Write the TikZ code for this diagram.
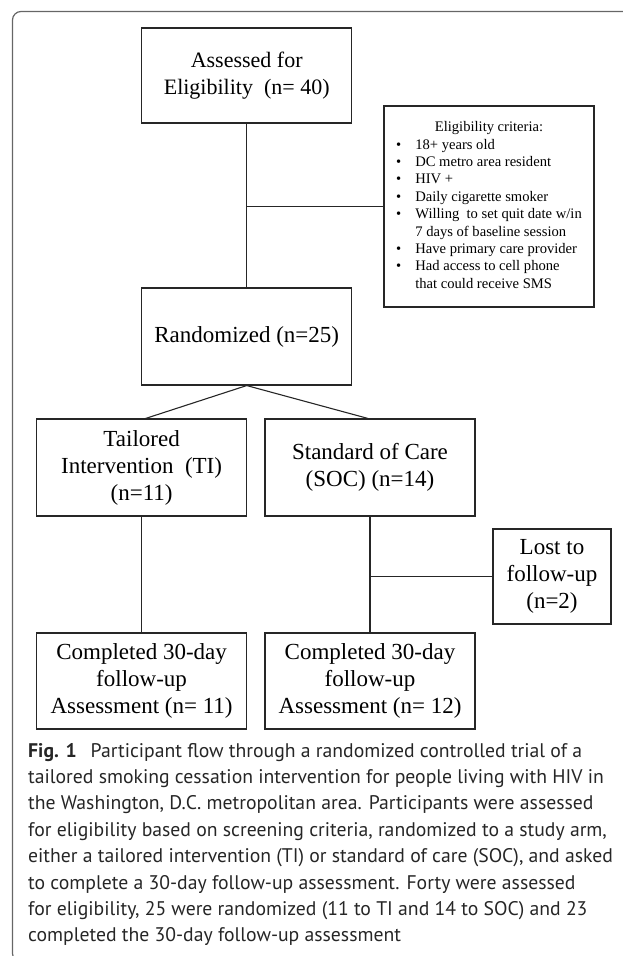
\documentclass[tikz,border=0pt]{standalone}
\usepackage{fontspec}
\setmainfont{Liberation Serif}
\newfontfamily\capfont{PT Sans}
\begin{document}
\begin{tikzpicture}[x=1pt,y=-1pt,
  box/.style={draw=black!85, line width=1.1pt, inner sep=0pt, align=center,
    font=\fontsize{23}{27}\selectfont},
  conn/.style={draw=black!85, line width=1.1pt},
  frame/.style={draw=black!60, line width=1.2pt},
  capline/.style={anchor=base west, inner sep=0pt, font=\capfont\fontsize{19.7}{26.4}\selectfont, text=black!85}]
\useasboundingbox (0,0) rectangle (622,956);
% frame
\draw[frame, rounded corners=8.5pt] (630,11.5) -- (12.5,11.5) -- (12.5,962) -- (24,962);
% boxes
\node[box, minimum width=210pt, minimum height=95pt, font=\fontsize{22}{27}\selectfont] (assess) at (246.7,75.5) {Assessed for\\Eligibility\ \ (n= 40)};
\node[box, minimum width=210pt, minimum height=201pt, font=\fontsize{14.6}{17.4}\selectfont] (crit) at (489,206.5)
  {\begin{tabular}{@{}l@{\hspace{14pt}}l@{}}
   \multicolumn{2}{c}{Eligibility\ criteria:}\\
   \textbullet & 18+ years old\\
   \textbullet & DC metro area resident\\
   \textbullet & HIV +\\
   \textbullet & Daily cigarette smoker\\
   \textbullet & Willing\ \ to set quit date w/in\\
    & 7 days of baseline session\\
   \textbullet & Have primary care provider\\
   \textbullet & Had access to cell phone\\
    & that could receive SMS
   \end{tabular}};
\node[box, minimum width=210pt, minimum height=97pt] (rand) at (246.7,336.5) {Randomized (n=25)};
\node[box, minimum width=210pt, minimum height=97pt] (ti) at (141.6,467.5) {Tailored\\Intervention\ \ (TI)\\(n=11)};
\node[box, minimum width=210pt, minimum height=97pt] (soc) at (370,467.5) {Standard of Care\\(SOC) (n=14)};
\node[box, minimum width=118pt, minimum height=95pt] (lost) at (552,576.5) {Lost to\\follow-up\\(n=2)};
\node[box, minimum width=210pt, minimum height=96pt] (cti) at (141.6,681) {Completed 30-day\\follow-up\\Assessment (n= 11)};
\node[box, minimum width=210pt, minimum height=96pt] (csoc) at (370,681) {Completed 30-day\\follow-up\\Assessment (n= 12)};
% connectors
\draw[conn] (assess.south) -- (rand.north);
\coordinate (j1) at (assess.south |- crit.west);
\draw[conn] (j1) -- (crit.west);
\draw[conn] (rand.south) -- ([xshift=4pt]ti.north);
\draw[conn] (rand.south) -- ([xshift=-2pt]soc.north);
\draw[conn] (ti.south) -- (cti.north);
\draw[conn] (soc.south) -- (csoc.north);
\coordinate (j2) at (soc.south |- lost.west);
\draw[conn] (j2) -- (lost.west);
% caption
\node[capline] (cap1) at (28,757) {\textbf{Fig. 1}\hspace{14pt}Participant flow through a randomized controlled trial of a};
\node[capline] (cap2) at (28,783.4) {tailored smoking cessation intervention for people living with HIV in};
\node[capline] (cap3) at (28,809.8) {the Washington, D.C. metropolitan area. Participants were assessed};
\node[capline] (cap4) at (28,836.2) {for eligibility based on screening criteria, randomized to a study arm,};
\node[capline] (cap5) at (28,862.6) {either a tailored intervention (TI) or standard of care (SOC), and asked};
\node[capline] (cap6) at (28,889) {to complete a 30-day follow-up assessment. Forty were assessed};
\node[capline] (cap7) at (28,915.4) {for eligibility, 25 were randomized (11 to TI and 14 to SOC) and 23};
\node[capline] (cap8) at (28,941.8) {completed the 30-day follow-up assessment};
\end{tikzpicture}
\end{document}
